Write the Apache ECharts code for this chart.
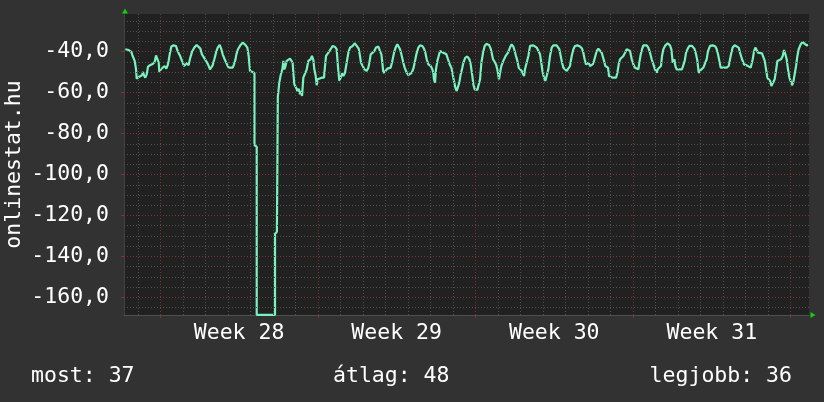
<!DOCTYPE html>
<html><head><meta charset="utf-8">
<script src="https://cdn.jsdelivr.net/npm/echarts@6/dist/echarts.min.js"></script>
<style>html,body{margin:0;padding:0;background:#323232;}#c{width:824px;height:402px;}</style>
</head><body><div id="c"></div>
<script>
// ---- data (hours since start of Week 28, Monday 00:00) ----
const hours = [
-37.3,-33.7,-30.9,-29.5,-27.3,-25.9,-25.2,-23.8,-22.4,-20.9,
-19.5,-18.4,-17.4,-16.0,-14.5,-13.1,-10.6,-8.1,-6.0,-4.6,
-3.2,-1.7,-1.0,0.7,2.5,4.6,6.4,7.8,8.9,10.0,
11.8,14.2,16.7,17.8,19.6,21.4,23.1,25.3,26.7,28.8,
30.2,31.7,33.8,36.3,38.8,40.9,42.7,44.4,46.6,48.7,
50.9,53.0,54.4,55.8,57.6,59.4,61.2,63.3,65.1,66.5,
68.6,71.1,72.9,75.0,77.2,78.6,80.0,81.1,82.8,85.3,
87.8,90.7,92.8,94.2,95.6,97.8,99.2,
100.4,100.4,102.8,102.8,122.3,122.3,124.3,125.3,
126.9,128.3,130.1,131.2,132.2,133.3,134.7,136.5,138.3,140.1,
141.1,141.8,142.9,144.7,146.1,147.5,148.9,150.0,151.1,152.5,
154.3,156.1,157.8,160.3,161.7,163.2,164.2,165.7,166.7,167.8,
169.2,172.1,174.5,175.6,176.7,179.2,181.6,183.8,186.3,188.0,
188.8,189.8,190.9,192.3,193.7,195.2,196.9,198.7,200.5,202.3,
205.1,207.2,209.4,211.5,212.9,214.0,215.8,217.5,220.0,221.8,
222.9,224.3,226.4,228.2,230.0,232.5,234.2,235.7,236.7,237.8,
240.3,242.1,245.6,247.4,249.2,250.9,252.7,254.5,255.6,257.0,
259.1,260.5,262.7,264.4,266.2,268.0,269.8,271.2,273.0,275.1,
276.9,279.4,281.1,282.6,284.0,285.8,288.3,290.0,291.1,291.8,
292.9,293.9,295.4,296.8,298.2,300.0,301.8,303.5,305.0,306.7,
308.5,310.3,311.7,313.1,314.6,316.0,317.4,318.8,320.2,322.0,
323.1,325.2,327.4,329.5,330.9,332.7,333.7,335.2,338.0,339.8,
340.9,342.3,344.1,345.8,347.6,350.5,352.2,353.6,354.7,356.5,
357.9,359.3,361.1,362.2,363.6,365.7,368.2,370.7,372.8,374.6,
376.4,377.8,379.2,380.7,382.1,383.5,
385.3,387.8,388.8,390.6,392.4,394.2,395.9,397.7,399.5,401.3,
403.0,404.8,406.2,407.7,409.1,410.5,411.9,413.7,415.5,417.3,
419.0,420.8,422.6,424.4,425.4,426.9,428.3,429.7,431.5,433.3,
435.0,436.8,438.6,440.4,442.1,444.6,447.5,449.6,451.0,452.4,
453.9,455.3,456.7,458.1,459.6,461.0,462.4,463.8,465.2,467.0,
468.8,470.6,471.6,473.1,474.5,475.9,477.3,478.4,480.2,482.3,
484.4,485.9,487.3,488.7,490.1,491.9,493.7,495.5,497.2,499.0,
500.8,502.6,504.3,506.1,507.9,509.7,510.7,512.2,513.6,515.0,
516.8,518.6,520.3,522.1,523.9,525.7,527.4,
529.2,530.3,532.1,533.8,534.9,536.3,538.5,540.9,543.4,544.8,
545.6,546.3,548.0,549.1,550.5,552.0,553.4,556.2,557.6,559.1,
560.5,562.3,564.0,566.9,569.4,571.2,572.6,574.0,575.4,576.8,
579.0,581.1,582.5,583.9,586.1,588.9,591.8,593.2,594.6,596.0,
597.4,598.9,601.4,603.8,606.0,607.4,608.8,610.2,612.4,614.5,
616.6,618.1,620.2,622.3,625.2,627.3,629.4,631.6,633.0,634.4,
635.8,637.3,639.4,641.5,643.0,644.4,645.8,647.2,648.6,650.1,
651.5,653.6,655.0,656.4,657.9,660.0,661.8,663.6,665.0,666.4,
667.8,669.2,670.7,672.1,673.5,674.9,676.0,677.8,679.2,680.6,
682.7,684.9,687.0,689.1,690.6
];
const values = [
-38.8,-39.2,-40.1,-42.1,-44.5,-48.6,-53.2,-52.7,-52.2,-53.0,
-51.5,-49.9,-51.5,-52.7,-51.1,-47.3,-46.5,-46.0,-45.0,-41.8,
-42.4,-45.4,-49.9,-48.6,-47.8,-47.0,-48.3,-46.7,-44.5,-41.3,
-37.5,-36.9,-37.2,-38.8,-40.8,-42.4,-44.5,-47.0,-46.2,-45.4,
-46.7,-43.4,-40.1,-38.0,-36.7,-37.2,-38.5,-41.3,-42.9,-44.5,
-46.2,-48.6,-48.1,-46.7,-43.7,-40.5,-38.0,-36.7,-38.8,-41.3,
-43.7,-46.2,-47.8,-48.6,-47.8,-46.2,-44.1,-41.3,-38.8,-36.9,
-35.6,-36.7,-38.0,-42.1,-49.4,-49.8,-50.3,
-50.5,-85.6,-86.5,-168.5,-168.5,-129.0,-128.0,-62.0,
-55.1,-51.5,-48.6,-44.5,-48.6,-47.3,-44.5,-45.0,-43.4,-42.9,
-45.4,-50.3,-55.9,-57.6,-59.2,-58.1,-60.8,-59.2,-61.6,-52.7,
-51.9,-48.6,-44.5,-43.7,-42.1,-44.1,-48.6,-51.9,-56.4,-53.5,
-53.2,-52.7,-52.7,-47.0,-42.1,-40.5,-38.8,-37.2,-37.7,-38.8,
-43.7,-49.4,-54.3,-52.7,-50.6,-51.9,-50.3,-45.4,-40.5,-38.0,
-37.2,-35.9,-37.2,-38.5,-42.1,-45.4,-47.0,-48.6,-49.4,-47.8,
-45.4,-41.3,-40.5,-39.7,-38.0,-37.5,-39.7,-41.3,-45.4,-50.3,
-49.4,-48.3,-47.8,-44.5,-40.5,-38.0,-36.4,-36.9,-38.8,-41.3,
-45.4,-47.8,-50.3,-51.5,-51.9,-50.3,-48.3,-45.4,-41.3,-38.0,
-36.9,-37.2,-38.5,-40.5,-43.7,-46.2,-47.0,-48.6,-50.3,-53.5,
-55.1,-48.6,-44.5,-42.1,-39.7,-40.1,-40.5,-40.8,-41.3,-43.7,
-46.2,-47.8,-51.1,-54.3,-57.6,-59.2,-58.4,-55.1,-51.1,-47.8,
-45.4,-42.9,-42.4,-43.7,-46.2,-51.9,-55.9,-58.4,-58.7,-58.4,
-53.5,-45.4,-40.5,-37.2,-36.2,-36.7,-38.5,-41.3,-43.7,-45.0,
-46.2,-48.6,-53.5,-50.3,-47.0,-44.5,-42.1,-40.5,-38.0,-36.4,
-37.5,-39.7,-42.1,-44.5,-47.8,-48.6,
-49.4,-51.9,-48.6,-47.8,-42.1,-37.2,-36.4,-36.9,-36.4,-38.0,
-38.8,-41.3,-45.4,-50.3,-52.7,-54.3,-51.9,-48.6,-42.1,-38.0,
-36.9,-36.4,-36.9,-37.2,-38.8,-42.1,-45.4,-47.8,-48.6,-49.4,
-48.6,-47.0,-42.1,-38.8,-37.2,-36.9,-37.5,-38.5,-40.5,-43.7,
-46.2,-47.0,-45.4,-47.0,-47.8,-46.2,-44.5,-42.1,-39.7,-38.5,
-38.8,-40.5,-41.3,-44.5,-47.0,-46.2,-47.8,-51.9,-52.7,-52.7,
-53.5,-52.7,-50.3,-46.2,-43.7,-42.9,-42.1,-40.5,-38.8,-38.5,
-39.7,-43.7,-46.2,-47.8,-48.6,-48.6,-45.4,-41.3,-38.8,-36.9,
-36.4,-36.9,-38.0,-40.5,-43.7,-46.2,-48.6,
-50.3,-48.6,-47.8,-47.0,-42.1,-38.8,-36.9,-35.9,-36.9,-38.8,
-42.1,-45.4,-43.7,-47.0,-48.6,-49.4,-48.6,-48.6,-47.8,-44.5,
-40.5,-38.5,-37.2,-37.2,-38.5,-41.3,-44.5,-50.3,-51.1,-48.6,
-47.8,-47.0,-43.7,-39.7,-37.2,-36.9,-37.5,-38.8,-41.3,-44.5,
-47.8,-48.6,-47.8,-47.8,-47.0,-43.7,-40.5,-38.0,-36.9,-36.9,
-38.0,-40.5,-43.7,-46.2,-46.7,-47.0,-47.8,-43.7,-39.7,-38.0,
-38.8,-40.5,-40.5,-40.8,-41.3,-44.5,-48.6,-52.7,-52.7,-54.3,
-56.8,-56.8,-53.5,-49.4,-44.5,-44.1,-43.7,-42.1,-39.2,-41.3,
-43.7,-48.6,-52.7,-53.2,-56.4,-54.8,-51.9,-47.0,-42.1,-38.8,
-36.4,-35.3,-35.9,-36.9,-36.7
];
const xRange = [-38.7, 691.6];
const yRange = [-168.6, -21.6];
const weekLabels = ['Week 28', 'Week 29', 'Week 30', 'Week 31'];
const weekLabelHours = [84, 252, 420, 588];
const xMajor = [0, 168, 336, 504, 672];
const xMinor = [-24,24,48,72,96,120,144,192,216,240,264,288,312,360,384,408,432,456,480,528,552,576,600,624,648];
const yMajor = [-160, -140, -120, -100, -80, -60, -40];
const yMinor = [-165,-155,-150,-145,-135,-130,-125,-115,-110,-105,-95,-90,-85,-75,-70,-65,-55,-50,-45,-35,-30,-25];
const yTitle = 'onlinestat.hu';
const statNames = ['most', 'átlag', 'legjobb'];
const statValues = [37, 48, 36];

// ---- chart ----
const FONT = 'DejaVu Sans Mono';
const FS = 21.5;
const txt = {color: '#ffffff', fontFamily: FONT, fontSize: FS, fontWeight: 'normal'};
const minorStyle = {color: '#505050', type: [1, 2], width: 1};
const majorStyle = {color: '#7a3434', type: [1, 2], width: 1};
const gridLines = [].concat(
  yMinor.map(v => ({yAxis: v, lineStyle: minorStyle})),
  xMinor.map(v => ({xAxis: v, lineStyle: minorStyle})),
  yMajor.map(v => ({yAxis: v, lineStyle: majorStyle})),
  xMajor.map(v => ({xAxis: v, lineStyle: majorStyle}))
);
const lineData = hours.map((h, i) => [h, values[i]]);
const nearestIdx = (arr, v) => { let b = 0; arr.forEach((a, i) => { if (Math.abs(a - v) < Math.abs(arr[b] - v)) b = i; }); return b; };

const chart = echarts.init(document.getElementById('c'), null, {renderer: 'canvas'});
chart.setOption({
  backgroundColor: '#323232',
  animation: false,
  title: [
    {text: statNames[0] + ': ' + statValues[0], left: 31, top: 365, padding: 0, textStyle: txt},
    {text: statNames[1] + ': ' + statValues[1], left: 333, top: 365, padding: 0, textStyle: txt},
    {text: statNames[2] + ': ' + statValues[2], right: 32, top: 365, padding: 0, textStyle: txt}
  ],
  grid: {left: 124, top: 14, width: 685, height: 301, show: true, backgroundColor: '#212121', borderWidth: 0,
         containLabel: false, outerBoundsMode: 'none'},
  xAxis: {
    type: 'value', min: xRange[0], max: xRange[1],
    splitLine: {show: false},
    axisLine: {show: true, onZero: false, lineStyle: {color: '#505050', width: 1}},
    axisTick: {show: true, customValues: xMajor, length: 3, lineStyle: {color: '#8a3030'}},
    axisLabel: Object.assign({customValues: weekLabelHours, margin: 7,
      formatter: v => weekLabels[nearestIdx(weekLabelHours, v)]}, txt)
  },
  yAxis: {
    type: 'value', min: yRange[0], max: yRange[1],
    name: yTitle, nameLocation: 'middle', nameGap: 99, nameRotate: 90, nameTextStyle: txt,
    nameMoveOverlap: false,
    splitLine: {show: false},
    axisLine: {show: true, onZero: false, lineStyle: {color: '#404040', width: 1}},
    axisTick: {show: true, customValues: yMajor, length: 3, lineStyle: {color: '#8a3030'}},
    axisLabel: Object.assign({customValues: yMajor, margin: 15,
      formatter: v => v.toFixed(1).replace('.', ',')}, txt)
  },
  series: [
    {type: 'line', data: [], z: 1, silent: true,
     markLine: {silent: true, symbol: ['none', 'none'], label: {show: false}, animation: false, data: gridLines}},
    {type: 'line', data: lineData, z: 3, showSymbol: false, symbol: 'none', clip: true, silent: true,
     lineStyle: {color: '#78F2BE', width: 2.2},
     markPoint: {silent: true, animation: false, symbol: 'triangle', label: {show: false},
       itemStyle: {color: '#10d010'},
       data: [
         {coord: [xRange[0], yRange[1]], symbolSize: [6, 5], symbolOffset: [1, -3]},
         {coord: [xRange[1], yRange[0]], symbolSize: [6, 5], symbolOffset: [4, 0], symbolRotate: -90}
       ]}}
  ]
});
</script></body></html>
